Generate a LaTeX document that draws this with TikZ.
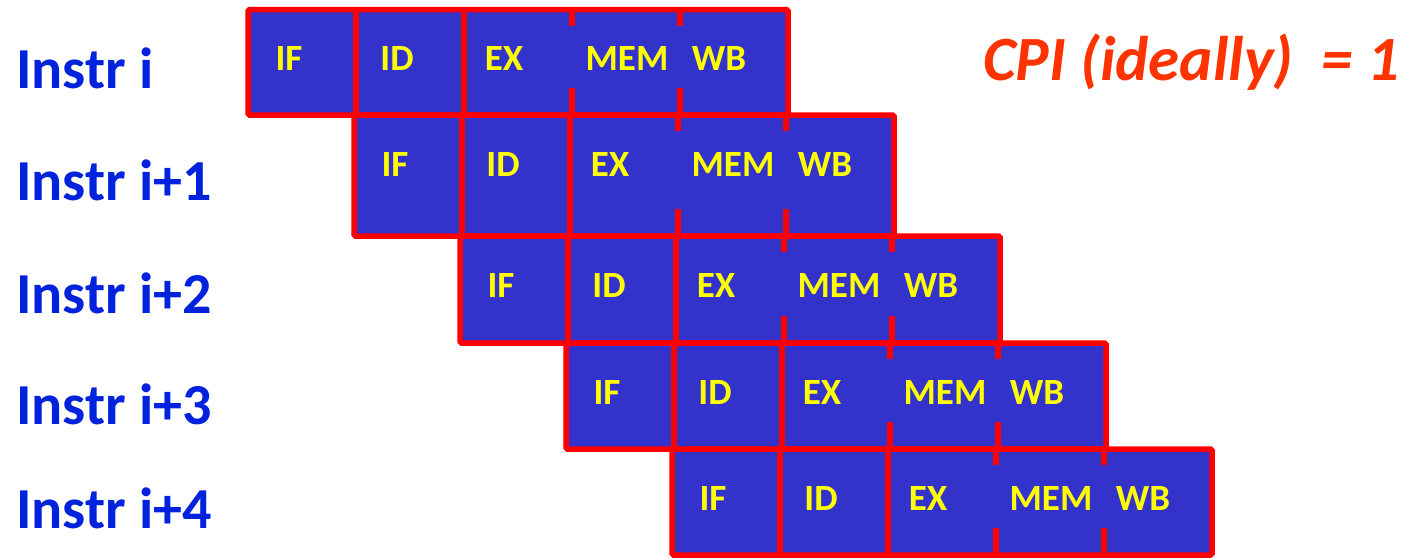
\documentclass[tikz,border=0pt]{standalone}
\usepackage{fontspec}
\setmainfont{Carlito}
\definecolor{cellblue}{RGB}{51,51,204}
\definecolor{stagered}{RGB}{255,0,0}
\definecolor{labelblue}{RGB}{0,34,221}
\definecolor{cpiorange}{RGB}{255,51,0}
\definecolor{stageyellow}{RGB}{255,255,0}
\begin{document}
\begin{tikzpicture}[x=1pt,y=-1pt,
  rowbox/.style={fill=cellblue, draw=stagered, line width=5.5pt, rounded corners=1.5pt},
  divider/.style={draw=stagered, line width=5.5pt},
  stagelbl/.style={text=stageyellow, font=\fontsize{37}{40}\selectfont\bfseries, inner sep=0pt, anchor=center},
  instrlbl/.style={text=labelblue, font=\fontsize{58}{60}\selectfont\bfseries, inner sep=0pt, anchor=base west},
  cpilbl/.style={text=cpiorange, font=\fontsize{63}{70}\selectfont\bfseries\itshape, inner sep=0pt, anchor=base west}
]
\useasboundingbox (0,0) rectangle (1412,557);
\foreach \r/\top/\bot/\base/\txt in {0/9.5/115/88/{Instr i},1/115/236/200/{Instr i+1},2/236/343/313/{Instr i+2},3/343/449/424/{Instr i+3},4/449/555/528/{Instr i+4}}{
  \pgfmathsetmacro{\xl}{248+106*\r}
  \draw[rowbox] (\xl,\top) rectangle (\xl+540,\bot);
  \draw[divider] (\xl+108,\top) -- (\xl+108,\bot);
  \draw[divider] (\xl+216,\top) -- (\xl+216,\bot);
  \draw[divider] (\xl+324,\top) -- (\xl+324,\top+16);
  \draw[divider] (\xl+324,\bot) -- (\xl+324,\bot-27);
  \draw[divider] (\xl+432,\top) -- (\xl+432,\top+16);
  \draw[divider] (\xl+432,\bot) -- (\xl+432,\bot-27);
  \node[stagelbl] (if\r) at (\xl+41,\top+49) {IF};
  \node[stagelbl] (id\r) at (\xl+149,\top+49) {ID};
  \node[stagelbl] (ex\r) at (\xl+256,\top+49) {EX};
  \node[stagelbl] (mem\r) at (\xl+379,\top+49) {MEM};
  \node[stagelbl] (wb\r) at (\xl+471,\top+49) {WB};
  \node[instrlbl] (instr\r) at (16,\base) {\txt};
}
\node[cpilbl] (cpi) at (983,80) {CPI (ideally)\ \ = 1};
\end{tikzpicture}
\end{document}
